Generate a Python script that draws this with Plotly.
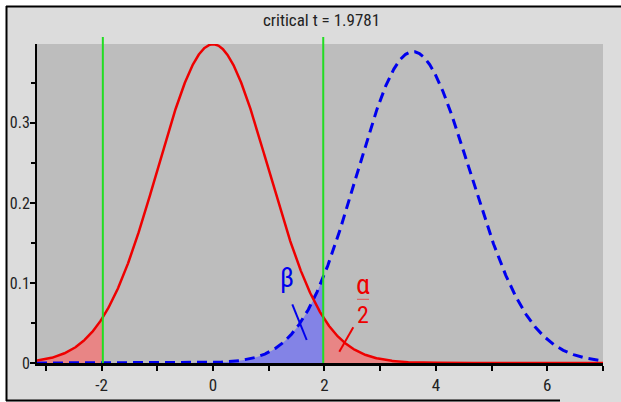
import math
import numpy as np
import plotly.graph_objects as go

# ---------------- data ----------------
title_text = "critical t = 1.9781"
t_crit = 1.9781          # critical t value (two-sided, alpha = 0.05)
dof = 134                # degrees of freedom of the t distributions
ncp = 3.61               # non-centrality of the alternative distribution
x_min, x_max = -3.16, 7.0
y_max = 0.3985
x_tick_vals = [-2, 0, 2, 4, 6]
x_tick_text = ["-2", "0", "2", "4", "6"]
y_tick_vals = [0, 0.1, 0.2, 0.3]
y_tick_text = ["0", "0.1", "0.2", "0.3"]
beta_label = "β"
alpha_num, alpha_den = "α", "2"

# ---------------- densities ----------------
x = np.linspace(x_min, x_max, 1400)


def t_pdf(xv, nu):
    c = math.exp(math.lgamma((nu + 1) / 2) - math.lgamma(nu / 2)) / math.sqrt(nu * math.pi)
    return c * (1 + xv ** 2 / nu) ** (-(nu + 1) / 2)


def nct_pdf(xv, nu, delta):
    v = np.linspace(1e-6, nu + 12 * math.sqrt(2 * nu), 3000)
    fv = np.exp((nu / 2 - 1) * np.log(v) - v / 2 - (nu / 2) * math.log(2) - math.lgamma(nu / 2))
    s = np.sqrt(v / nu)
    X = xv[:, None]
    integrand = fv[None, :] * s[None, :] * np.exp(-0.5 * (X * s[None, :] - delta) ** 2) / math.sqrt(2 * math.pi)
    return np.trapezoid(integrand, v, axis=1)


y_null = t_pdf(x, dof)
y_alt = nct_pdf(x, dof, ncp)

# ---------------- geometry helpers ----------------
W, H = 621, 402
ML, MR, MT, MB = 37, 18, 44, 39
PW, PH = W - ML - MR, H - MT - MB


def px(xp):
    return (xp - ML) / PW


def py(yp):
    return (H - MB - yp) / PH


def dx(xp):
    return x_min + (xp - ML) / PW * (x_max - x_min)


def dy(yp):
    return (H - MB - yp) / PH * y_max


RED = "#ee0000"
BLUE = "#0000ee"
RED_FILL = "#e88585"
BLUE_FILL = "#8383e6"
GREEN = "#22dd22"
FONT = "Roboto Condensed, Liberation Sans Narrow, sans-serif"
TXT = "#222222"

fig = go.Figure()

# fills
mL = x <= -t_crit
mR = x >= t_crit
mB = x <= t_crit
fig.add_trace(go.Scatter(x=x[mL], y=y_null[mL], fill="tozeroy", mode="none",
                         fillcolor=RED_FILL, hoverinfo="skip"))
fig.add_trace(go.Scatter(x=x[mR], y=y_null[mR], fill="tozeroy", mode="none",
                         fillcolor=RED_FILL, hoverinfo="skip"))
fig.add_trace(go.Scatter(x=x[mB], y=y_alt[mB], fill="tozeroy", mode="none",
                         fillcolor=BLUE_FILL, hoverinfo="skip"))

# curves
fig.add_trace(go.Scatter(x=x, y=y_alt, mode="lines",
                         line=dict(color=BLUE, width=3, dash="10px,6px")))
fig.add_trace(go.Scatter(x=x, y=y_null, mode="lines",
                         line=dict(color=RED, width=2.5)))

shapes = []
# green critical lines (extend above the plot area)
for xc in (-t_crit, t_crit):
    shapes.append(dict(type="line", xref="x", yref="paper", x0=xc, x1=xc,
                       y0=0, y1=py(37), line=dict(color=GREEN, width=2), layer="above"))
# white margins outside the frame
shapes.append(dict(type="rect", xref="paper", yref="paper", x0=px(0), x1=px(W),
                   y0=py(6), y1=py(0), fillcolor="white", line=dict(width=0)))
shapes.append(dict(type="rect", xref="paper", yref="paper", x0=px(0), x1=px(6),
                   y0=py(H), y1=py(0), fillcolor="white", line=dict(width=0)))
# frame lines
shapes.append(dict(type="line", xref="paper", yref="paper", x0=px(6), x1=px(W),
                   y0=py(6.5), y1=py(6.5), line=dict(color="black", width=2)))
shapes.append(dict(type="line", xref="paper", yref="paper", x0=px(6.5), x1=px(6.5),
                   y0=py(6), y1=py(401), line=dict(color="black", width=2)))
shapes.append(dict(type="line", xref="paper", yref="paper", x0=px(6), x1=px(560),
                   y0=py(400.5), y1=py(400.5), line=dict(color="black", width=2)))
# pointer lines
shapes.append(dict(type="line", xref="x", yref="y", x0=dx(292.3), y0=dy(304.3),
                   x1=dx(306.7), y1=dy(340), line=dict(color=BLUE, width=2)))
shapes.append(dict(type="line", xref="x", yref="y", x0=dx(353.3), y0=dy(327.3),
                   x1=dx(339.3), y1=dy(351.7), line=dict(color=RED, width=2)))
# fraction bar
shapes.append(dict(type="line", xref="x", yref="y", x0=dx(357), y0=dy(299.3),
                   x1=dx(369), y1=dy(299.3), line=dict(color="#e05050", width=1)))

annotations = [
    dict(text=title_text, xref="paper", yref="paper", x=px(321), y=py(20),
         showarrow=False, font=dict(family=FONT, size=17, color=TXT),
         xanchor="center", yanchor="middle"),
    dict(text=beta_label, xref="x", yref="y", x=dx(286.7), y=dy(278),
         showarrow=False, font=dict(family=FONT, size=27, color=BLUE),
         xanchor="center", yanchor="middle"),
    dict(text=alpha_num, xref="x", yref="y", x=dx(362.5), y=dy(284),
         showarrow=False, font=dict(family=FONT, size=28, color=RED),
         xanchor="center", yanchor="middle"),
    dict(text=alpha_den, xref="x", yref="y", x=dx(363), y=dy(315),
         showarrow=False, font=dict(family=FONT, size=24, color=RED),
         xanchor="center", yanchor="middle"),
]

fig.update_layout(
    width=W, height=H,
    margin=dict(l=ML, r=MR, t=MT, b=MB, pad=0, autoexpand=False),
    paper_bgcolor="#dcdcdc",
    plot_bgcolor="#bdbdbd",
    showlegend=False,
    shapes=shapes,
    annotations=annotations,
    xaxis=dict(range=[x_min, x_max], tickmode="array", tickvals=x_tick_vals,
               ticktext=x_tick_text, ticks="outside", ticklen=5, tickwidth=1.5,
               tickcolor="black", showline=True, linecolor="black", linewidth=2.5,
               showgrid=False, zeroline=False, automargin=False,
               tickfont=dict(family=FONT, size=17, color=TXT),
               minor=dict(tickmode="linear", tick0=0, dtick=1, ticks="outside",
                          ticklen=5, tickwidth=1.5, tickcolor="black", showgrid=False)),
    yaxis=dict(range=[0, y_max], tickmode="array", tickvals=y_tick_vals,
               ticktext=y_tick_text, ticks="outside", ticklen=5, tickwidth=1.5,
               tickcolor="black", showline=True, linecolor="black", linewidth=2,
               showgrid=False, zeroline=False, automargin=False,
               ticklabelstandoff=-3,
               tickfont=dict(family=FONT, size=16, color=TXT),
               minor=dict(tickmode="linear", tick0=0, dtick=0.05, ticks="outside",
                          ticklen=4, tickwidth=1.5, tickcolor="black", showgrid=False)),
)

fig.write_html("out.html")
